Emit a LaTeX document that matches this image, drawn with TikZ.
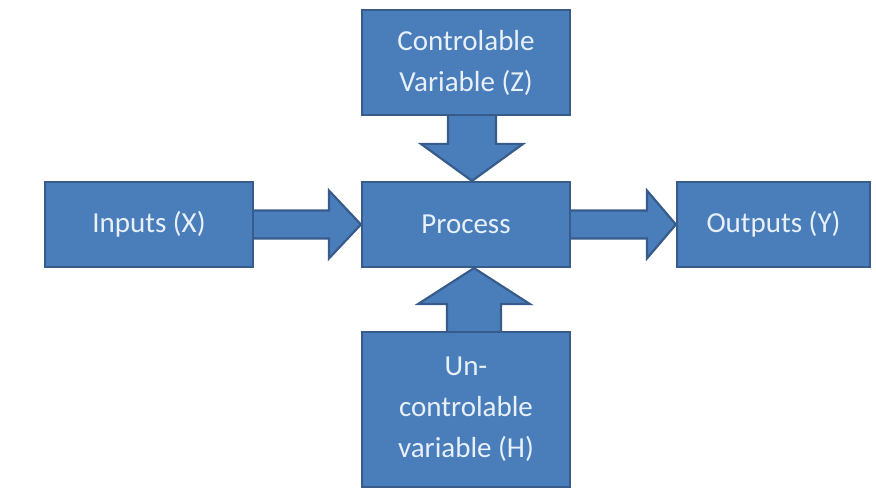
\documentclass[tikz,border=0pt]{standalone}
\usepackage{fontspec}
\setmainfont{Carlito}
\usetikzlibrary{calc}
\definecolor{boxfill}{HTML}{4A7EBB}
\definecolor{boxline}{HTML}{375C8C}
\definecolor{boxtext}{HTML}{E8F0FA}
\pgfdeclarelayer{background}
\pgfsetlayers{background,main}
\begin{document}
\begin{tikzpicture}[x=1pt,y=-1pt,
  box/.style={draw=boxline, fill=boxfill, line width=2.2pt, text=boxtext,
    font=\fontsize{29}{41}\selectfont, align=center, inner sep=0pt},
  blockarrow/.style={draw=boxline, fill=boxfill, line width=2.2pt, line join=miter}]
\useasboundingbox (0,0) rectangle (876,489);
\node[box, minimum width=208pt, minimum height=85pt] (in) at (149,224.5) {Inputs (X)};
\node[box, minimum width=208pt, minimum height=85pt] (proc) at (466,224.5) {Process};
\node[box, minimum width=193pt, minimum height=85pt] (out) at (773.5,224.5) {Outputs (Y)};
\node[box, minimum width=208pt, minimum height=105pt] (ctrl) at (466,62.5) {Controlable\\Variable (Z)};
\node[box, minimum width=208pt, minimum height=155pt] (unc) at (466,409.5) {Un-\\controlable\\variable (H)};
\begin{pgfonlayer}{background}
% left arrow
\draw[blockarrow] ($(in.east)+(-2,14)$) -- ($(proc.west)+(-32,14)$) -- ($(proc.west)+(-32,34)$)
  -- (proc.west) -- ($(proc.west)+(-32,-34)$) -- ($(proc.west)+(-32,-14)$) -- ($(in.east)+(-2,-14)$) -- cycle;
% right arrow
\draw[blockarrow] ($(proc.east)+(-2,14)$) -- ($(out.west)+(-29,14)$) -- ($(out.west)+(-29,34)$)
  -- (out.west) -- ($(out.west)+(-29,-34)$) -- ($(out.west)+(-29,-14)$) -- ($(proc.east)+(-2,-14)$) -- cycle;
% down arrow
\coordinate (dtip) at ($(proc.north)+(6,0)$);
\coordinate (dbase) at ($(ctrl.south)+(6,-2)$);
\draw[blockarrow] ($(dbase)+(-24,0)$) -- ($(dtip)+(-24,-37)$) -- ($(dtip)+(-51,-37)$)
  -- (dtip) -- ($(dtip)+(51,-37)$) -- ($(dtip)+(24,-37)$) -- ($(dbase)+(24,0)$) -- cycle;
% up arrow
\coordinate (utip) at ($(proc.south)+(8,0)$);
\coordinate (ubase) at ($(unc.north)+(8,2)$);
\draw[blockarrow] ($(ubase)+(-27,0)$) -- ($(utip)+(-27,36)$) -- ($(utip)+(-56,36)$)
  -- (utip) -- ($(utip)+(56,36)$) -- ($(utip)+(27,36)$) -- ($(ubase)+(27,0)$) -- cycle;
\end{pgfonlayer}
\end{tikzpicture}
\end{document}
